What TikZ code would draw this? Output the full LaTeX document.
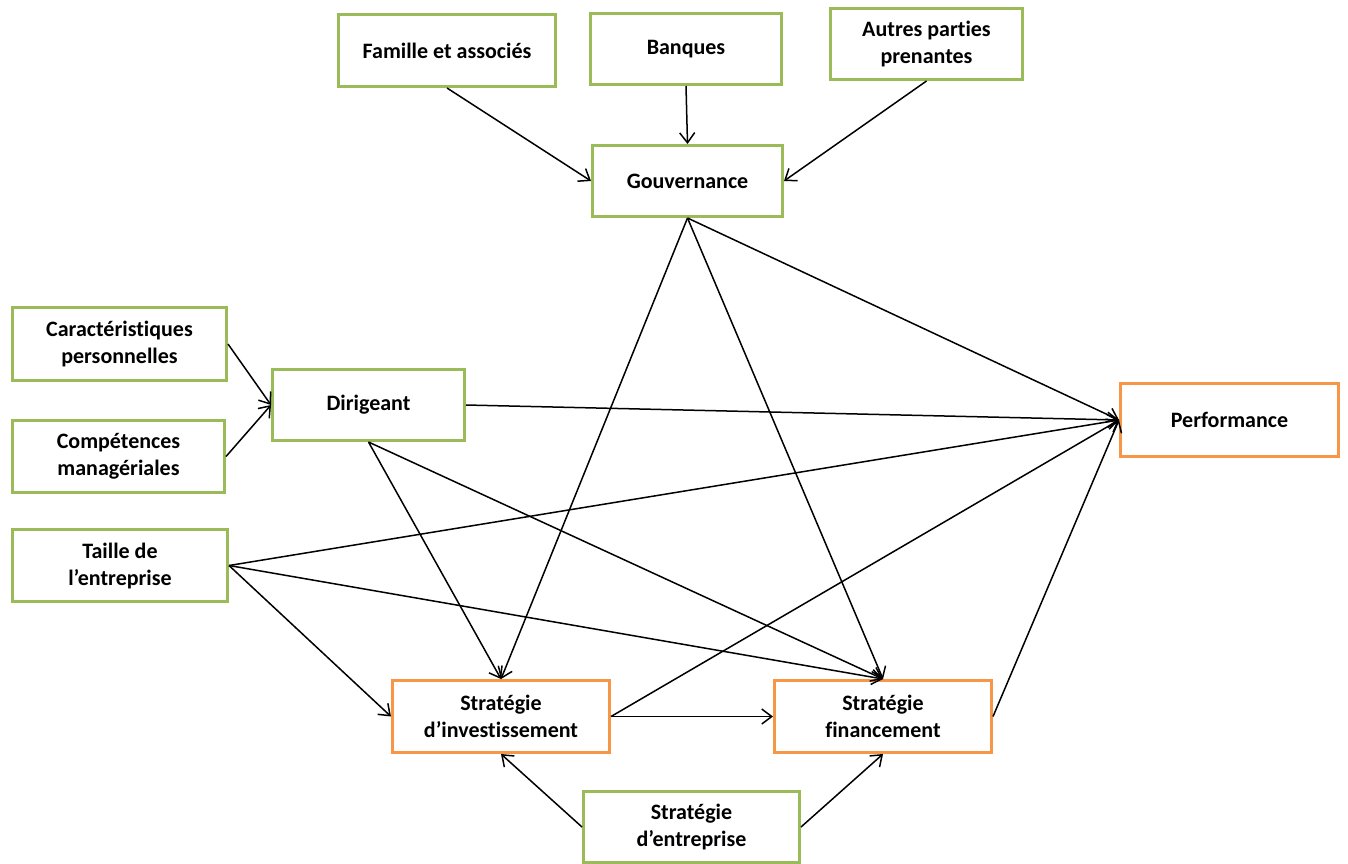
\documentclass[tikz,border=0pt]{standalone}
\usepackage{fontspec}
\setmainfont[Ligatures=NoCommon]{Carlito}
\usetikzlibrary{arrows.meta}
\definecolor{boxgreen}{HTML}{9BBB59}
\definecolor{boxorange}{HTML}{F79646}
\begin{document}
\begin{tikzpicture}[x=1pt,y=-1pt,
  box/.style={draw=boxgreen, line width=3pt, fill=white, align=center,
    font=\fontsize{22}{27}\selectfont\bfseries, inner sep=0pt},
  obox/.style={box, draw=boxorange},
  link/.style={line width=1.5pt, -{Straight Barb[length=10pt,width=15pt,line width=1.5pt]}}
]
\useasboundingbox (0,0) rectangle (1348,863);
\fill[white] (0,0) rectangle (1348,863);

% sources of governance
\node[box, minimum width=217pt, minimum height=72pt] (fam) at (447,50.5) {Famille et associés};
\node[box, minimum width=191pt, minimum height=71pt] (ban) at (686,49) {Banques};
\node[box, minimum width=192pt, minimum height=71pt] (aut) at (926.5,44) {Autres parties\\prenantes};
\node[box, minimum width=190pt, minimum height=71pt] (gov) at (687.5,181) {Gouvernance};

% manager and firm characteristics
\node[box, minimum width=214pt, minimum height=73pt] (car) at (119.5,344) {Caractéristiques\\personnelles};
\node[box, minimum width=212pt, minimum height=72pt] (com) at (118.5,456.5) {Compétences\\managériales};
\node[box, minimum width=192pt, minimum height=71pt] (dir) at (368.5,405) {Dirigeant};
\node[box, minimum width=215pt, minimum height=72pt] (tai) at (120,565.5) {Taille de\\l’entreprise};

% outcomes
\node[obox, minimum width=218pt, minimum height=73pt] (perf) at (1229.5,420) {Performance};
\node[obox, minimum width=217pt, minimum height=72pt] (inv) at (501,716.5) {Stratégie\\d’investissement};
\node[obox, minimum width=217pt, minimum height=72pt] (fin) at (883,716.5) {Stratégie\\financement};
\node[box, minimum width=216pt, minimum height=71pt] (ent) at (691.5,827) {Stratégie\\d’entreprise};

% links
\draw[link] (fam.south) -- (gov.west);
\draw[link] (ban.south) -- (gov.north);
\draw[link] (aut.south) -- (gov.east);
\draw[link] (car.east) -- (dir.west);
\draw[link] (com.east) -- (dir.west);
\draw[link] (dir.east) -- (perf.west);
\draw[link] (gov.south) -- (perf.west);
\draw[link] (gov.south) -- (inv.north);
\draw[link] (gov.south) -- (fin.north);
\draw[link] (dir.south) -- (inv.north);
\draw[link] (dir.south) -- (fin.north);
\draw[link] (tai.east) -- (perf.west);
\draw[link] (tai.east) -- (inv.west);
\draw[link] (tai.east) -- (fin.north);
\draw[link] (inv.east) -- (fin.west);
\draw[link] (inv.east) -- (perf.west);
\draw[link] (fin.east) -- (perf.west);
\draw[link] (ent.west) -- (inv.south);
\draw[link] (ent.east) -- (fin.south);
\end{tikzpicture}
\end{document}
